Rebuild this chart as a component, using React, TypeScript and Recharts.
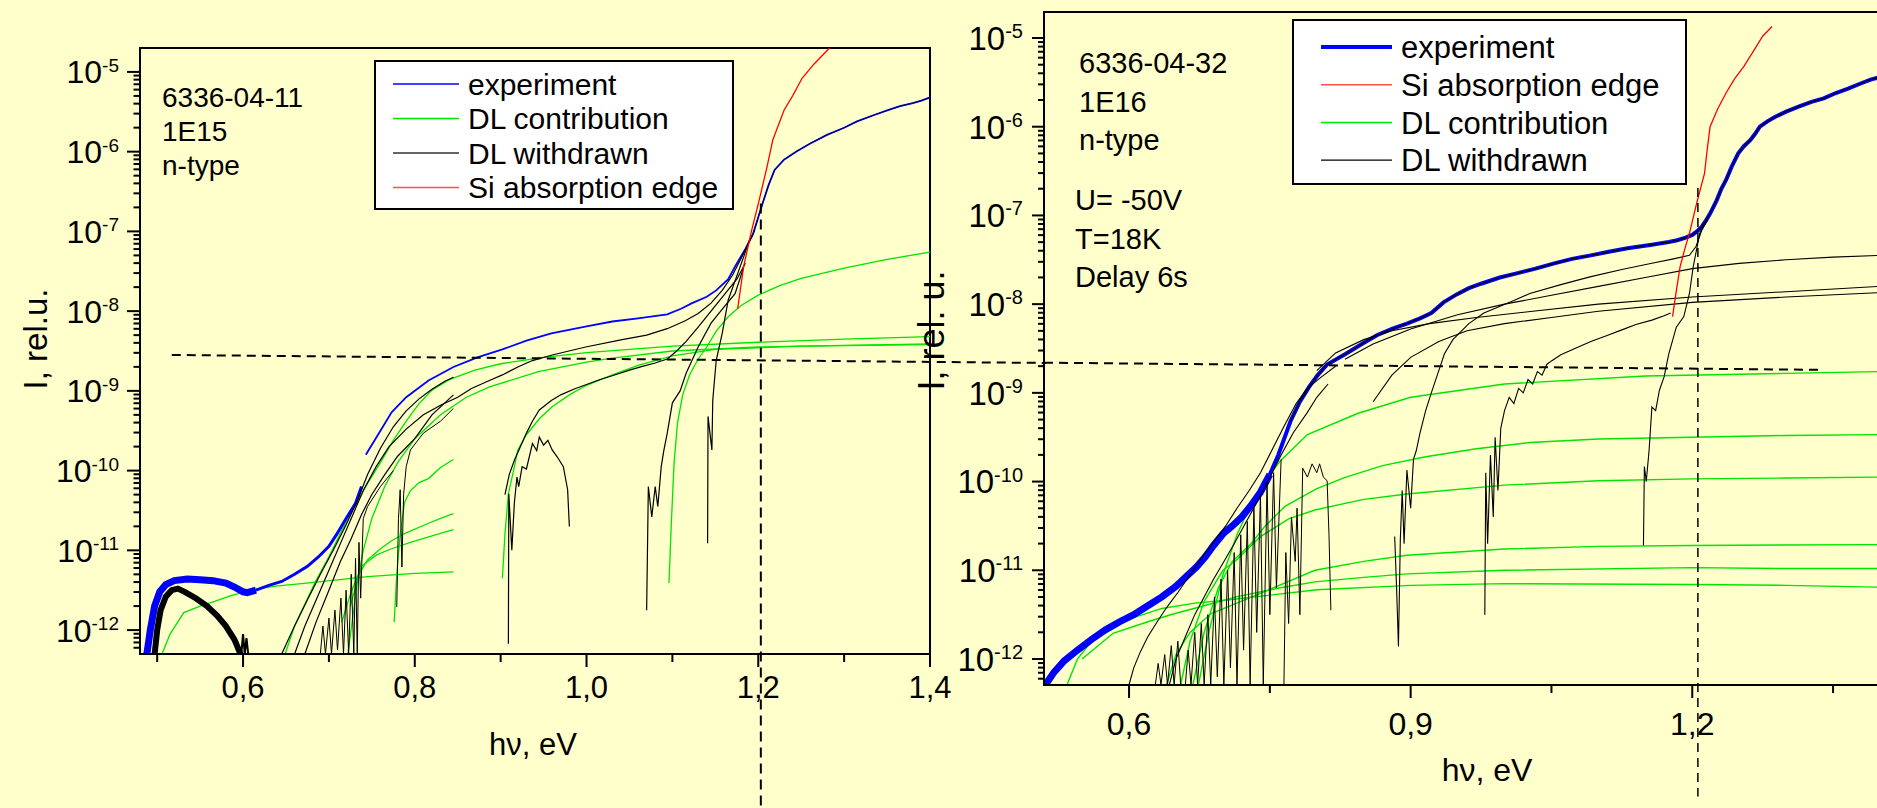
import {
  LineChart,
  Line,
  XAxis,
  YAxis,
  ReferenceLine,
  ReferenceArea,
  Legend,
} from "recharts";

// every curve is a list of [hν in eV, log10(I)]
type Pt = [number, number];

const FONT = '"Liberation Sans", Arial, Helvetica, sans-serif';
const BLUE = "#0000ff";
const GREEN = "#00e400";
const RED = "#ff0000";
const BLACK = "#000000";

// ---------- left panel: 6336-04-11 ----------
const EXP_L_LOW: Pt[] = [
  [0.488, -12.3], [0.492, -12.0], [0.497, -11.7], [0.503, -11.52], [0.51, -11.43],
  [0.52, -11.38], [0.535, -11.36], [0.55, -11.37], [0.565, -11.38], [0.58, -11.41],
  [0.59, -11.46], [0.6, -11.52], [0.605, -11.53], [0.615, -11.5],
];
const EXP_L_MID: Pt[] = [
  [0.615, -11.5], [0.63, -11.44], [0.645, -11.39], [0.66, -11.3], [0.675, -11.2],
  [0.688, -11.08], [0.7, -10.95], [0.709, -10.8], [0.72, -10.6], [0.731, -10.41],
  [0.738, -10.2],
];
const EXP_L: Pt[] = [
  [0.743, -9.8], [0.76, -9.5], [0.773, -9.27], [0.79, -9.08], [0.816, -8.87],
  [0.845, -8.7], [0.873, -8.58], [0.902, -8.48], [0.93, -8.37], [0.959, -8.28],
  [1.0, -8.19], [1.03, -8.13], [1.06, -8.09], [1.094, -8.04], [1.11, -7.97],
  [1.123, -7.9], [1.14, -7.82], [1.151, -7.74], [1.165, -7.6], [1.173, -7.44],
  [1.185, -7.22], [1.194, -7.03], [1.205, -6.65], [1.212, -6.42], [1.219, -6.23],
  [1.23, -6.1], [1.244, -6.0], [1.26, -5.9], [1.28, -5.79], [1.3, -5.7],
  [1.315, -5.62], [1.335, -5.54], [1.351, -5.48], [1.365, -5.43], [1.38, -5.39],
  [1.39, -5.36], [1.4, -5.32],
];
const SI_L: Pt[] = [
  [1.176, -7.97], [1.183, -7.44], [1.192, -7.0], [1.201, -6.61], [1.21, -6.2],
  [1.217, -5.85], [1.23, -5.48], [1.24, -5.3], [1.251, -5.08], [1.265, -4.9],
  [1.283, -4.7], [1.29, -4.62],
];
const GL_A: Pt[] = [
  [1.096, -11.41], [1.099, -10.6], [1.102, -9.9], [1.106, -9.4], [1.112, -9.05],
  [1.12, -8.8], [1.13, -8.6], [1.14, -8.45], [1.151, -8.25], [1.165, -8.07],
  [1.18, -7.93], [1.2, -7.8], [1.225, -7.68], [1.25, -7.59], [1.3, -7.46],
  [1.35, -7.35], [1.4, -7.26],
];
const GL_B: Pt[] = [
  [0.902, -11.35], [0.905, -10.8], [0.909, -10.29], [0.915, -10.0], [0.92, -9.74],
  [0.93, -9.55], [0.945, -9.35], [0.96, -9.2], [0.98, -9.05], [1.0, -8.93],
  [1.03, -8.8], [1.06, -8.68], [1.1, -8.56], [1.15, -8.48], [1.25, -8.44],
  [1.4, -8.42],
];
const GL_C: Pt[] = [
  [0.649, -12.3], [0.66, -11.95], [0.67, -11.72], [0.685, -11.38], [0.7, -11.08],
  [0.715, -10.75], [0.73, -10.45], [0.745, -10.16], [0.76, -9.9], [0.775, -9.62],
  [0.79, -9.38], [0.805, -9.16], [0.82, -8.99], [0.84, -8.86], [0.87, -8.74],
  [0.9, -8.66], [0.95, -8.58], [1.0, -8.52], [1.1, -8.44], [1.2, -8.39],
  [1.3, -8.35], [1.4, -8.32],
];
const GL_D: Pt[] = [
  [0.722, -12.3], [0.727, -11.9], [0.733, -11.4], [0.74, -11.0], [0.75, -10.6],
  [0.765, -10.2], [0.78, -9.9], [0.8, -9.6], [0.83, -9.3], [0.86, -9.08],
  [0.887, -8.95], [0.944, -8.76], [1.0, -8.64], [1.03, -8.59], [1.1, -8.5],
  [1.2, -8.45], [1.3, -8.43], [1.4, -8.41],
];
const GS_1: Pt[] = [
  [0.776, -11.9], [0.779, -11.3], [0.783, -10.8], [0.788, -10.4], [0.795, -10.25],
  [0.805, -10.15], [0.816, -10.1], [0.83, -9.96], [0.845, -9.86],
];
const GS_2: Pt[] = [
  [0.725, -11.7], [0.735, -11.3], [0.745, -11.12], [0.76, -10.98], [0.773, -10.88],
  [0.79, -10.78], [0.816, -10.66], [0.83, -10.6], [0.845, -10.54],
];
const GS_3: Pt[] = [
  [0.715, -11.9], [0.725, -11.55], [0.738, -11.2], [0.755, -11.06], [0.773, -10.98],
  [0.795, -10.9], [0.816, -10.83], [0.845, -10.74],
];
const GS_4: Pt[] = [
  [0.506, -12.29], [0.515, -12.05], [0.531, -11.78], [0.55, -11.7], [0.567, -11.64],
  [0.585, -11.57], [0.602, -11.52], [0.62, -11.48], [0.638, -11.45], [0.674, -11.41],
  [0.71, -11.37], [0.745, -11.33], [0.8, -11.29], [0.845, -11.27],
];
const KL_HUMP: Pt[] = [
  [0.497, -12.3], [0.5, -12.0], [0.504, -11.75], [0.51, -11.58], [0.517, -11.5],
  [0.524, -11.48], [0.532, -11.52], [0.545, -11.6], [0.558, -11.7], [0.57, -11.82],
  [0.58, -11.95], [0.59, -12.12], [0.597, -12.3],
];
const KL_HUMP_TAIL: Pt[] = [
  [0.598, -12.3], [0.6, -12.05], [0.602, -12.3], [0.604, -12.1], [0.606, -12.3],
];
const KL_A: Pt[] = [
  [0.645, -12.3], [0.66, -11.95], [0.675, -11.62], [0.69, -11.3], [0.705, -11.0],
  [0.72, -10.68], [0.733, -10.38], [0.745, -10.05], [0.76, -9.72], [0.775, -9.45],
  [0.79, -9.25], [0.805, -9.1], [0.82, -8.98], [0.835, -8.88], [0.845, -8.83],
];
const KL_B: Pt[] = [
  [0.66, -12.3], [0.672, -11.95], [0.688, -11.55], [0.702, -11.2], [0.716, -10.85],
  [0.728, -10.55], [0.74, -10.25], [0.755, -9.95], [0.77, -9.7], [0.79, -9.48],
  [0.81, -9.3], [0.83, -9.18], [0.85, -9.08], [0.866, -8.97], [0.885, -8.88],
  [0.902, -8.8], [0.92, -8.7], [0.937, -8.62], [0.96, -8.55], [0.999, -8.45],
  [1.04, -8.36], [1.07, -8.3], [1.094, -8.22], [1.115, -8.12], [1.13, -8.03],
  [1.145, -7.9], [1.158, -7.74], [1.17, -7.55], [1.18, -7.34], [1.19, -7.12],
  [1.196, -6.98],
];
const KL_C: Pt[] = [
  [0.672, -12.3], [0.685, -11.9], [0.7, -11.5], [0.713, -11.15], [0.726, -10.85],
  [0.738, -10.55], [0.75, -10.3], [0.765, -10.05], [0.78, -9.82], [0.8, -9.6],
  [0.82, -9.3], [0.845, -9.05],
];
const KL_D: Pt[] = [
  [0.69, -12.3], [0.693, -11.95], [0.696, -12.3], [0.7, -11.85], [0.703, -12.3],
  [0.707, -11.75], [0.71, -12.25], [0.714, -11.6], [0.717, -12.3], [0.72, -11.5],
  [0.723, -12.3], [0.726, -11.3], [0.729, -12.3], [0.731, -11.1], [0.733, -12.3],
  [0.735, -10.9], [0.737, -11.6], [0.74, -10.6], [0.745, -10.45], [0.76, -10.2],
  [0.775, -10.0],
];
const KL_E: Pt[] = [
  [0.779, -11.71], [0.781, -10.6], [0.783, -10.24], [0.785, -11.21], [0.787, -10.3],
  [0.79, -9.95], [0.795, -9.74], [0.81, -9.53], [0.83, -9.38], [0.845, -9.22],
];
const KL_F: Pt[] = [
  [0.909, -12.17], [0.9095, -10.29], [0.913, -11.0], [0.916, -10.4], [0.919, -10.08],
  [0.921, -10.2], [0.925, -9.95], [0.93, -9.98], [0.937, -9.66], [0.942, -9.75],
  [0.945, -9.58], [0.95, -9.68], [0.955, -9.62], [0.96, -9.74], [0.966, -9.83],
  [0.973, -9.95], [0.978, -10.24], [0.98, -10.7],
];
const KL_G: Pt[] = [
  [0.905, -10.3], [0.91, -10.05], [0.916, -9.87], [0.925, -9.65], [0.93, -9.53],
  [0.937, -9.38], [0.945, -9.24], [0.952, -9.18], [0.959, -9.12], [0.97, -9.05],
  [0.985, -8.98], [1.0, -8.92], [1.015, -8.86], [1.03, -8.81], [1.05, -8.74],
  [1.066, -8.69], [1.08, -8.65], [1.094, -8.6], [1.105, -8.5], [1.116, -8.38],
  [1.13, -8.2], [1.145, -8.0], [1.16, -7.8], [1.175, -7.6], [1.185, -7.4],
];
const KL_H: Pt[] = [
  [1.07, -11.75], [1.072, -10.2], [1.076, -10.58], [1.08, -10.2], [1.083, -10.45],
  [1.087, -9.95], [1.09, -9.75], [1.094, -9.53], [1.1, -9.15], [1.109, -9.0],
  [1.116, -8.78], [1.13, -8.45], [1.145, -8.15], [1.16, -7.95], [1.173, -7.78],
  [1.183, -7.45],
];
const KL_I: Pt[] = [
  [1.141, -10.91], [1.1415, -9.32], [1.146, -9.74], [1.147, -9.12], [1.151, -8.62],
  [1.158, -8.28], [1.165, -7.86], [1.176, -7.53], [1.183, -7.32], [1.19, -7.1],
];

// ---------- right panel: 6336-04-32 ----------
const EXP_R_LOW: Pt[] = [
  [0.511, -12.29], [0.52, -12.15], [0.531, -12.02], [0.545, -11.9], [0.56, -11.78],
  [0.575, -11.67], [0.59, -11.58], [0.605, -11.5], [0.62, -11.4], [0.635, -11.3],
  [0.65, -11.18], [0.661, -11.07], [0.672, -10.96], [0.681, -10.85], [0.69, -10.72],
  [0.7, -10.59], [0.71, -10.5], [0.72, -10.4], [0.73, -10.27], [0.74, -10.12],
  [0.75, -9.92],
];
const EXP_R: Pt[] = [
  [0.75, -9.92], [0.759, -9.7], [0.772, -9.32], [0.782, -9.1], [0.792, -8.93],
  [0.801, -8.8], [0.811, -8.68], [0.831, -8.56], [0.848, -8.45], [0.864, -8.35],
  [0.88, -8.28], [0.896, -8.22], [0.91, -8.16], [0.922, -8.1], [0.935, -7.98],
  [0.949, -7.89], [0.962, -7.82], [0.975, -7.77], [0.995, -7.7], [1.014, -7.65],
  [1.033, -7.6], [1.053, -7.54], [1.072, -7.49], [1.092, -7.45], [1.111, -7.41],
  [1.131, -7.37], [1.157, -7.33], [1.175, -7.3], [1.184, -7.28], [1.193, -7.25],
  [1.2, -7.22], [1.205, -7.18], [1.21, -7.13], [1.215, -7.05], [1.219, -6.98],
  [1.226, -6.83], [1.231, -6.7], [1.236, -6.6], [1.242, -6.45], [1.249, -6.3],
  [1.255, -6.22], [1.262, -6.15], [1.267, -6.08], [1.272, -6.0], [1.28, -5.94],
  [1.288, -5.89], [1.3, -5.83], [1.314, -5.77], [1.327, -5.72], [1.34, -5.68],
  [1.353, -5.62], [1.366, -5.57], [1.38, -5.51], [1.39, -5.47], [1.4, -5.44],
];
const SI_R: Pt[] = [
  [1.179, -8.14], [1.183, -7.85], [1.187, -7.58], [1.192, -7.38], [1.197, -7.2],
  [1.205, -6.85], [1.213, -6.53], [1.216, -6.25], [1.219, -6.0], [1.227, -5.8],
  [1.236, -5.62], [1.245, -5.46], [1.255, -5.32], [1.265, -5.15], [1.275, -4.98],
  [1.285, -4.87],
];
const RK_1: Pt[] = [
  [0.883, -10.62], [0.885, -11.2], [0.887, -11.86], [0.889, -10.65], [0.891, -10.1],
  [0.893, -10.7], [0.896, -9.87], [0.9, -10.3], [0.903, -9.75], [0.906, -9.65],
  [0.91, -9.45], [0.916, -9.2], [0.922, -9.0], [0.929, -8.78], [0.936, -8.56],
  [0.945, -8.4], [0.962, -8.22], [0.978, -8.1], [0.994, -8.03], [1.01, -7.96],
  [1.027, -7.88], [1.06, -7.78], [1.092, -7.69], [1.125, -7.61], [1.157, -7.54],
  [1.18, -7.49], [1.197, -7.45], [1.204, -7.35], [1.21, -7.17], [1.216, -7.05],
];
const RK_2: Pt[] = [
  [0.83, -8.62], [0.86, -8.45], [0.9, -8.28], [0.95, -8.12], [1.0, -8.0],
  [1.05, -7.9], [1.1, -7.8], [1.15, -7.7], [1.2, -7.6], [1.25, -7.54],
  [1.3, -7.5], [1.35, -7.47], [1.4, -7.45],
];
const RK_3: Pt[] = [
  [0.8, -8.75], [0.82, -8.55], [0.85, -8.4], [0.88, -8.3], [0.92, -8.22],
  [0.97, -8.15], [1.03, -8.08], [1.1, -8.0], [1.2, -7.92], [1.3, -7.86],
  [1.4, -7.8],
];
const RK_4: Pt[] = [
  [0.86, -9.1], [0.88, -8.8], [0.9, -8.6], [0.93, -8.42], [0.96, -8.3],
  [1.0, -8.22], [1.05, -8.15], [1.1, -8.08], [1.2, -7.98], [1.3, -7.92],
  [1.4, -7.87],
];
const RK_5: Pt[] = [
  [0.979, -11.5], [0.98, -9.9], [0.982, -10.7], [0.985, -9.7], [0.988, -10.4],
  [0.99, -9.5], [0.993, -10.1], [0.996, -9.4], [1.0, -9.2], [1.005, -9.05],
  [1.01, -9.12], [1.015, -8.95], [1.02, -9.0], [1.025, -8.85], [1.03, -8.9],
  [1.035, -8.76], [1.04, -8.8], [1.045, -8.68], [1.05, -8.64], [1.06, -8.57],
  [1.075, -8.5], [1.092, -8.42], [1.11, -8.35], [1.125, -8.29], [1.14, -8.23],
  [1.157, -8.18], [1.17, -8.13], [1.177, -8.1],
];
const RK_6: Pt[] = [
  [1.148, -10.72], [1.149, -9.83], [1.151, -10.0], [1.154, -9.65], [1.157, -9.16],
  [1.161, -9.2], [1.165, -8.97], [1.17, -8.82], [1.175, -8.56], [1.183, -8.26],
  [1.191, -8.14], [1.197, -7.88], [1.201, -7.58], [1.208, -7.2], [1.216, -7.05],
];
const RK_7: Pt[] = [
  [0.6, -12.29], [0.605, -12.1], [0.612, -11.92], [0.62, -11.75], [0.63, -11.58],
  [0.64, -11.42], [0.652, -11.25], [0.665, -11.05], [0.678, -10.85], [0.69, -10.68],
  [0.703, -10.5], [0.715, -10.3], [0.728, -10.1], [0.74, -9.9], [0.752, -9.65],
  [0.765, -9.38], [0.778, -9.12], [0.79, -8.95], [0.805, -8.82], [0.82, -8.7],
];
const RK_8: Pt[] = [
  [0.643, -12.29], [0.65, -12.0], [0.66, -11.75], [0.67, -11.5], [0.68, -11.3],
  [0.69, -11.1], [0.7, -10.92], [0.712, -10.7], [0.725, -10.45], [0.738, -10.2],
  [0.75, -9.95], [0.762, -9.7], [0.775, -9.45], [0.79, -9.22], [0.8, -9.05],
  [0.812, -8.9],
];
const RK_9: Pt[] = [
  [0.66, -12.29], [0.663, -11.9], [0.666, -12.29], [0.67, -11.7], [0.673, -12.29],
  [0.677, -11.6], [0.68, -12.29], [0.684, -11.5], [0.687, -12.29], [0.691, -11.3],
  [0.694, -12.2], [0.698, -11.1], [0.701, -12.29], [0.705, -11.0], [0.708, -12.1],
  [0.712, -10.8], [0.715, -12.29], [0.719, -10.6], [0.722, -11.9], [0.726, -10.45],
  [0.729, -12.29], [0.733, -10.3], [0.736, -11.7], [0.74, -10.15], [0.743, -12.29],
  [0.747, -10.0], [0.75, -11.5], [0.754, -9.9], [0.757, -11.2], [0.762, -9.75],
];
const RK_9B: Pt[] = [
  [0.628, -12.29], [0.631, -12.05], [0.634, -12.29], [0.638, -11.95], [0.641, -12.29],
  [0.645, -11.85], [0.648, -12.29], [0.652, -11.8], [0.655, -12.29],
];
const RK_10: Pt[] = [
  [0.765, -12.29], [0.767, -10.8], [0.77, -11.6], [0.773, -10.4], [0.777, -10.9],
  [0.779, -10.3], [0.782, -11.5], [0.785, -9.85], [0.79, -9.95], [0.795, -9.8],
  [0.8, -9.9], [0.803, -9.8], [0.807, -9.95], [0.811, -9.99], [0.813, -10.6],
  [0.815, -11.45],
];
const GR_1: Pt[] = [
  [0.674, -12.29], [0.685, -11.7], [0.7, -11.05], [0.715, -10.6], [0.73, -10.25],
  [0.745, -10.0], [0.76, -9.78], [0.79, -9.47], [0.844, -9.23], [0.9, -9.05],
  [1.0, -8.9], [1.15, -8.81], [1.3, -8.78], [1.4, -8.76],
];
const GR_2: Pt[] = [
  [0.668, -12.29], [0.68, -11.7], [0.695, -11.2], [0.71, -10.9], [0.73, -10.7],
  [0.745, -10.5], [0.766, -10.28], [0.8, -10.08], [0.831, -9.95], [0.87, -9.82],
  [0.916, -9.72], [0.97, -9.63], [1.027, -9.56], [1.1, -9.52], [1.2, -9.5],
  [1.3, -9.48], [1.4, -9.47],
];
const GR_3: Pt[] = [
  [0.655, -12.29], [0.665, -11.8], [0.68, -11.35], [0.7, -11.0], [0.714, -10.89],
  [0.74, -10.62], [0.77, -10.42], [0.798, -10.32], [0.85, -10.2], [0.896, -10.14],
  [1.0, -10.04], [1.1, -9.99], [1.2, -9.97], [1.3, -9.96], [1.4, -9.95],
];
const GR_4: Pt[] = [
  [0.64, -12.29], [0.65, -11.95], [0.665, -11.7], [0.687, -11.49], [0.74, -11.26],
  [0.798, -11.0], [0.85, -10.9], [0.896, -10.83], [1.0, -10.76], [1.1, -10.73],
  [1.2, -10.72], [1.4, -10.71],
];
const GR_5: Pt[] = [
  [0.55, -12.0], [0.583, -11.71], [0.62, -11.58], [0.648, -11.49], [0.68, -11.4],
  [0.714, -11.3], [0.76, -11.2], [0.798, -11.13], [0.85, -11.08], [0.896, -11.04],
  [1.0, -11.0], [1.2, -10.97], [1.3, -10.98], [1.4, -10.98],
];
const GR_6: Pt[] = [
  [0.534, -12.29], [0.545, -12.0], [0.56, -11.8], [0.6, -11.55], [0.635, -11.43],
  [0.67, -11.37], [0.7, -11.34], [0.75, -11.28], [0.8, -11.22], [0.9, -11.17],
  [1.0, -11.15], [1.2, -11.16], [1.3, -11.17], [1.4, -11.19],
];

// dashed guide lines, [hν, log10 I] end points
const DASH_H_L: Pt[] = [[0.517, -8.55], [1.535, -8.65]];
const DASH_V_L: Pt[] = [[1.203, -6.65], [1.203, -14.3]];
const DASH_H_R: Pt[] = [[0.5094, -8.66], [1.334, -8.74]];
const DASH_V_R: Pt[] = [[1.206, -6.69], [1.206, -13.55]];

// axes
const X_DOMAIN_L = [0.48, 1.4];
const X_TICKS_L = [0.5, 0.6, 0.7, 0.8, 0.9, 1.0, 1.1, 1.2, 1.3, 1.4];
const X_LABELS_L = [0.6, 0.8, 1.0, 1.2, 1.4];
const LOG_DOMAIN_L = [-12.3, -4.7];
const X_DOMAIN_R = [0.5094, 1.4];
const X_TICKS_R = [0.6, 0.75, 0.9, 1.05, 1.2, 1.35];
const X_LABELS_R = [0.6, 0.9, 1.2];
const LOG_DOMAIN_R = [-12.293, -4.707];
const DECADES = [-13, -12, -11, -10, -9, -8, -7, -6, -5];
const MANTISSAS = [1, 2, 3, 4, 5, 6, 7, 8, 9];

const LEGEND_L = [
  { name: "experiment", color: BLUE, w: 1.5 },
  { name: "DL contribution", color: GREEN, w: 1.5 },
  { name: "DL withdrawn", color: "#333", w: 1.5 },
  { name: "Si absorption edge", color: "#ff5050", w: 1.5 },
];
const LEGEND_R = [
  { name: "experiment", color: BLUE, w: 4 },
  { name: "Si absorption edge", color: "#ff5050", w: 1.5 },
  { name: "DL contribution", color: GREEN, w: 1.5 },
  { name: "DL withdrawn", color: BLACK, w: 1.2 },
];

const rows = (pts: Pt[]) => pts.map(([x, v]) => ({ x, y: 10 ** v }));
const logTicks = ([lo, hi]: number[]) =>
  DECADES.flatMap((k) => MANTISSAS.map((m) => m * 10 ** k)).filter(
    (v) => v >= 10 ** lo && v <= 10 ** hi
  );

const SERIES_L = [
  { d: GS_4, c: GREEN, w: 1.3 },
  { d: GS_1, c: GREEN, w: 1.3 },
  { d: GS_2, c: GREEN, w: 1.3 },
  { d: GS_3, c: GREEN, w: 1.3 },
  { d: GL_A, c: GREEN, w: 1.3 },
  { d: GL_B, c: GREEN, w: 1.3 },
  { d: GL_C, c: GREEN, w: 1.3 },
  { d: GL_D, c: GREEN, w: 1.3 },
  { d: EXP_L_LOW, c: BLUE, w: 7 },
  { d: EXP_L_MID, c: BLUE, w: 3 },
  { d: EXP_L, c: BLUE, w: 1.8 },
  { d: KL_HUMP, c: BLACK, w: 6 },
  { d: KL_HUMP_TAIL, c: BLACK, w: 2 },
  { d: KL_A, c: BLACK, w: 1.2 },
  { d: KL_B, c: BLACK, w: 1.2 },
  { d: KL_C, c: BLACK, w: 1.2 },
  { d: KL_D, c: BLACK, w: 1 },
  { d: KL_E, c: BLACK, w: 1 },
  { d: KL_F, c: BLACK, w: 1.2 },
  { d: KL_G, c: BLACK, w: 1.2 },
  { d: KL_H, c: BLACK, w: 1.2 },
  { d: KL_I, c: BLACK, w: 1.2 },
  { d: EXP_L.filter(([x]) => x >= 1.19), c: "#000060", w: 1 },
  { d: SI_L, c: RED, w: 1.3 },
];

const SERIES_R = [
  { d: GR_1, c: GREEN, w: 1.4 },
  { d: GR_2, c: GREEN, w: 1.4 },
  { d: GR_3, c: GREEN, w: 1.4 },
  { d: GR_4, c: GREEN, w: 1.4 },
  { d: GR_5, c: GREEN, w: 1.4 },
  { d: GR_6, c: GREEN, w: 1.4 },
  { d: EXP_R_LOW, c: BLUE, w: 7 },
  { d: EXP_R, c: BLUE, w: 4 },
  { d: EXP_R.filter(([x]) => x >= 0.77), c: BLACK, w: 1.2 },
  { d: RK_1, c: BLACK, w: 1.1 },
  { d: RK_2, c: BLACK, w: 1.1 },
  { d: RK_3, c: BLACK, w: 1.1 },
  { d: RK_4, c: BLACK, w: 1.1 },
  { d: RK_5, c: BLACK, w: 1.1 },
  { d: RK_6, c: BLACK, w: 1.1 },
  { d: RK_7, c: BLACK, w: 1.1 },
  { d: RK_8, c: BLACK, w: 1.1 },
  { d: RK_9, c: BLACK, w: 1 },
  { d: RK_9B, c: BLACK, w: 1 },
  { d: RK_10, c: BLACK, w: 1 },
  { d: SI_R, c: RED, w: 1.3 },
];

const fmtX = (v: number) => v.toFixed(1).replace(".", ",");

const xTick = (labels: number[], font: number, drop: number) => (p: any) => {
  const v = p.payload.value;
  const major = labels.some((l) => Math.abs(l - v) < 1e-9);
  return (
    <g>
      <line x1={p.x} x2={p.x} y1={p.y} y2={p.y + (major ? 13 : 8)} stroke={BLACK} strokeWidth={2} />
      {major && (
        <text x={p.x} y={p.y + drop} textAnchor="middle" fontSize={font} fontFamily={FONT} fill={BLACK}>
          {fmtX(v)}
        </text>
      )}
    </g>
  );
};

const yTick = (font: number, sup: number, gap: number, big: number) => (p: any) => {
  const v = p.payload.value;
  const lg = Math.log10(v);
  const e = Math.round(lg);
  const major = Math.abs(lg - e) < 1e-6;
  return (
    <g>
      <line x1={p.x} x2={p.x - (major ? big : big / 2)} y1={p.y} y2={p.y} stroke={BLACK} strokeWidth={2} />
      {major && (
        <text x={p.x - gap} y={p.y + font * 0.36} textAnchor="end" fontSize={font} fontFamily={FONT} fill={BLACK}>
          10
          <tspan dy={-font * 0.36} fontSize={sup}>
            {e}
          </tspan>
        </text>
      )}
    </g>
  );
};

function AxisTitle(props: any) {
  const { viewBox, text, dx = 0, dy = 0, size, rotate = false, fromBottom = false } = props;
  const cx = viewBox.x + (rotate ? dx : viewBox.width / 2 + dx);
  const cy = fromBottom ? viewBox.y + dy : viewBox.y + viewBox.height / 2 + dy;
  return (
    <text
      x={cx}
      y={cy}
      dy={rotate ? "0.35em" : 0}
      textAnchor="middle"
      fontSize={size}
      fontFamily={FONT}
      fill={BLACK}
      transform={rotate ? `rotate(-90 ${cx} ${cy})` : undefined}
    >
      {text}
    </text>
  );
}

function LegendBox({ items, w, h, top, gap, lx, ll, tx, font }: any) {
  return (
    <div
      style={{
        width: w,
        height: h,
        boxSizing: "border-box",
        border: "2px solid #000",
        background: "#ffffff",
      }}
    >
      <svg width={w - 4} height={h - 4} style={{ display: "block" }}>
        {items.map((it: any, i: number) => {
          const cy = top + i * gap;
          return (
            <g key={it.name}>
              <line x1={lx} x2={lx + ll} y1={cy} y2={cy} stroke={it.color} strokeWidth={it.w} />
              <text x={tx} y={cy + font * 0.36} fontSize={font} fontFamily={FONT} fill={BLACK}>
                {it.name}
              </text>
            </g>
          );
        })}
      </svg>
    </div>
  );
}

const dashed = (pts: Pt[]) => rows(pts) as any;

export default function App() {
  const yDomL = LOG_DOMAIN_L.map((v) => 10 ** v);
  const yDomR = LOG_DOMAIN_R.map((v) => 10 ** v);
  return (
    <div
      style={{
        position: "relative",
        width: 1877,
        height: 808,
        overflow: "hidden",
        background: "#ffffcc",
        fontFamily: FONT,
      }}
    >
      <style>{"body{margin:0}"}</style>

      {/* left panel */}
      <div style={{ position: "absolute", left: 0, top: 0 }}>
        <LineChart width={1877} height={808} margin={{ top: 48, right: 947, bottom: 94, left: 0 }}>
          <XAxis
            dataKey="x"
            type="number"
            domain={X_DOMAIN_L}
            allowDataOverflow
            ticks={X_TICKS_L}
            interval={0}
            tickSize={0}
            tickMargin={0}
            tickLine={false}
            height={60}
            axisLine={{ stroke: BLACK, strokeWidth: 2 }}
            tick={xTick(X_LABELS_L, 31, 44)}
            label={<AxisTitle text="hν, eV" size={31} dx={-2} dy={101} fromBottom />}
          />
          <YAxis
            type="number"
            scale="log"
            domain={yDomL}
            allowDataOverflow
            ticks={logTicks(LOG_DOMAIN_L)}
            interval={0}
            tickSize={0}
            tickMargin={0}
            tickLine={false}
            width={140}
            axisLine={{ stroke: BLACK, strokeWidth: 2 }}
            tick={yTick(32, 19, 21, 13)}
            label={<AxisTitle text="I, rel.u." size={33} dx={35} dy={-12} rotate />}
          />
          <ReferenceArea
            x1={X_DOMAIN_L[0]}
            x2={X_DOMAIN_L[1]}
            y1={yDomL[0]}
            y2={yDomL[1]}
            fill="none"
            stroke={BLACK}
            strokeWidth={2}
            ifOverflow="visible"
          />
          {SERIES_L.map((s, i) => (
            <Line
              key={i}
              data={rows(s.d)}
              dataKey="y"
              type="linear"
              stroke={s.c}
              strokeWidth={s.w}
              dot={false}
              activeDot={false}
              legendType="none"
              isAnimationActive={false}
            />
          ))}
          <ReferenceLine segment={dashed(DASH_H_L)} stroke={BLACK} strokeWidth={2} strokeDasharray="9 6" ifOverflow="visible" />
          <ReferenceLine segment={dashed(DASH_V_L)} stroke={BLACK} strokeWidth={2} strokeDasharray="10 6" ifOverflow="visible" />
          <Legend
            layout="vertical"
            align="center"
            verticalAlign="middle"
            wrapperStyle={{ left: 374, top: 60, width: 360, height: 150 }}
            content={() => (
              <LegendBox items={LEGEND_L} w={360} h={150} top={22} gap={34.5} lx={17} ll={66} tx={92} font={30} />
            )}
          />
        </LineChart>
      </div>

      {/* right panel */}
      <div style={{ position: "absolute", left: 0, top: 0 }}>
        <LineChart width={1890} height={808} margin={{ top: 12, right: 10, bottom: 63, left: 944 }}>
          <XAxis
            dataKey="x"
            type="number"
            domain={X_DOMAIN_R}
            allowDataOverflow
            ticks={X_TICKS_R}
            interval={0}
            tickSize={0}
            tickMargin={0}
            tickLine={false}
            height={60}
            axisLine={{ stroke: BLACK, strokeWidth: 2 }}
            tick={xTick(X_LABELS_R, 32, 50)}
            label={<AxisTitle text="hν, eV" size={32} dx={25} dy={96} fromBottom />}
          />
          <YAxis
            type="number"
            scale="log"
            domain={yDomR}
            allowDataOverflow
            ticks={logTicks(LOG_DOMAIN_R)}
            interval={0}
            tickSize={0}
            tickMargin={0}
            tickLine={false}
            width={100}
            axisLine={{ stroke: BLACK, strokeWidth: 2 }}
            tick={yTick(33, 20, 21, 12)}
            label={<AxisTitle text="I, rel. u." size={36} dx={-13} dy={-18} rotate />}
          />
          <ReferenceArea
            x1={X_DOMAIN_R[0]}
            x2={X_DOMAIN_R[1]}
            y1={yDomR[0]}
            y2={yDomR[1]}
            fill="none"
            stroke={BLACK}
            strokeWidth={2}
            ifOverflow="visible"
          />
          {SERIES_R.map((s, i) => (
            <Line
              key={i}
              data={rows(s.d)}
              dataKey="y"
              type="linear"
              stroke={s.c}
              strokeWidth={s.w}
              dot={false}
              activeDot={false}
              legendType="none"
              isAnimationActive={false}
            />
          ))}
          <ReferenceLine segment={dashed(DASH_H_R)} stroke={BLACK} strokeWidth={2} strokeDasharray="9 6" ifOverflow="visible" />
          <ReferenceLine segment={dashed(DASH_V_R)} stroke={BLACK} strokeWidth={1.5} strokeDasharray="9 6" ifOverflow="visible" />
          <Legend
            layout="vertical"
            align="center"
            verticalAlign="middle"
            wrapperStyle={{ left: 1292, top: 19, width: 395, height: 166 }}
            content={() => (
              <LegendBox items={LEGEND_R} w={395} h={166} top={26} gap={37.7} lx={27} ll={71} tx={107} font={31} />
            )}
          />
        </LineChart>
      </div>

      {/* sample notes */}
      <div style={{ position: "absolute", left: 162, top: 81, fontSize: 28, lineHeight: "34px", color: BLACK }}>
        <div>6336-04-11</div>
        <div>1E15</div>
        <div>n-type</div>
      </div>
      <div style={{ position: "absolute", left: 1079, top: 44, fontSize: 29, lineHeight: "38.5px", color: BLACK }}>
        <div>6336-04-32</div>
        <div>1E16</div>
        <div>n-type</div>
      </div>
      <div style={{ position: "absolute", left: 1075, top: 181, fontSize: 29, lineHeight: "38.5px", color: BLACK }}>
        <div>U= -50V</div>
        <div>T=18K</div>
        <div>Delay 6s</div>
      </div>
    </div>
  );
}
